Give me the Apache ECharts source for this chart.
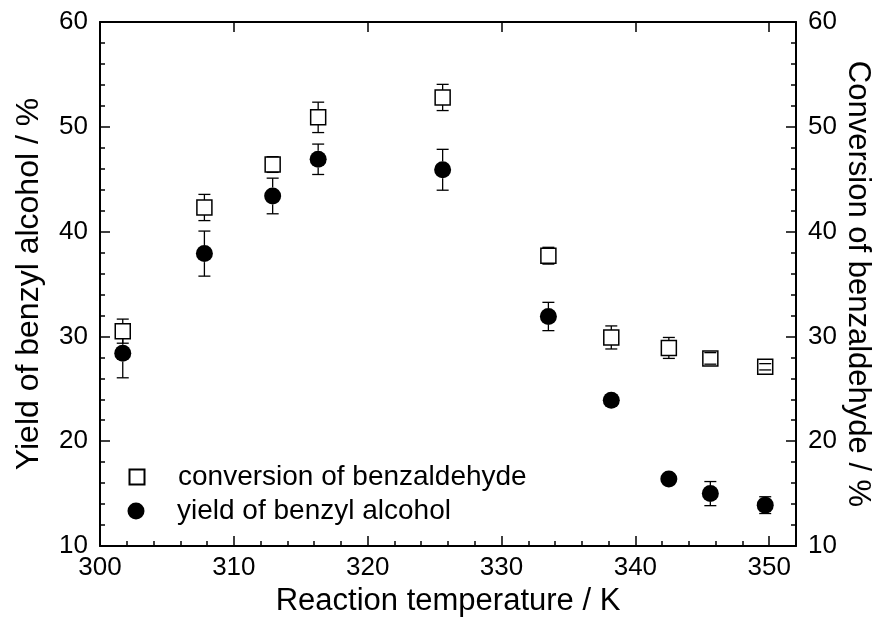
<!DOCTYPE html>
<html>
<head>
<meta charset="utf-8">
<script src="https://cdn.jsdelivr.net/npm/echarts@6/dist/echarts.min.js"></script>
<style>
html,body{margin:0;padding:0;background:#fff;}
#chart{width:878px;height:633px;}
</style>
</head>
<body>
<div id="chart"></div>
<script>
// ---- data ----
var temperatures = [301.7, 307.8, 312.9, 316.3, 325.6, 333.5, 338.2, 342.5, 345.6, 349.7];
var conversion    = [30.5, 42.3, 46.4, 50.9, 52.8, 37.7, 29.9, 28.9, 27.9, 27.1];
var conversionErr = [1.15, 1.25, 0.75, 1.45, 1.25, 0.8, 1.1, 1.0, 0.55, 0.3];
var yieldValues   = [28.4, 37.9, 43.4, 46.9, 45.9, 31.9, 23.9, 16.4, 15.0, 13.9];
var yieldErr      = [2.35, 2.15, 1.7, 1.45, 1.95, 1.35, 0.5, 0.4, 1.15, 0.8];
var seriesNames = ['conversion of benzaldehyde', 'yield of benzyl alcohol'];
var xTitle = 'Reaction temperature / K';
var yLeftTitle = 'Yield of benzyl alcohol / %';
var yRightTitle = 'Conversion of benzaldehyde / %';

var FONT = 'Liberation Sans';
var chart = echarts.init(document.getElementById('chart'), null, {renderer: 'canvas'});

function pairs(xs, ys) { return xs.map(function (x, i) { return [x, ys[i]]; }); }
function errTriples(xs, ys, es) { return xs.map(function (x, i) { return [x, ys[i], es[i]]; }); }

function errorRender(halfSymbol, capHalf) {
  return function (params, api) {
    var x = api.value(0), y = api.value(1), e = api.value(2);
    var c = api.coord([x, y]);
    var top = api.coord([x, y + e]);
    var bot = api.coord([x, y - e]);
    var style = {stroke: '#000', lineWidth: 1.3, fill: null};
    var children = [];
    if (top[1] < c[1] - halfSymbol) {
      children.push({type: 'line', shape: {x1: c[0], y1: top[1], x2: c[0], y2: c[1] - halfSymbol}, style: style});
    }
    if (bot[1] > c[1] + halfSymbol) {
      children.push({type: 'line', shape: {x1: c[0], y1: c[1] + halfSymbol, x2: c[0], y2: bot[1]}, style: style});
    }
    children.push({type: 'line', shape: {x1: c[0] - capHalf, y1: top[1], x2: c[0] + capHalf, y2: top[1]}, style: style});
    children.push({type: 'line', shape: {x1: c[0] - capHalf, y1: bot[1], x2: c[0] + capHalf, y2: bot[1]}, style: style});
    return {type: 'group', children: children};
  };
}

var axisLineStyle = {color: '#000', width: 2};
var tickStyle = {color: '#000', width: 1.5};
var LABEL_SIZE = 26;

var option = {
  backgroundColor: '#fff',
  animation: false,
  grid: {left: 100, right: 82, top: 22, bottom: 87, containLabel: false, outerBoundsMode: 'none'},
  legend: [
    {
      data: [{name: seriesNames[0]}],
      left: 128.5, top: 463, orient: 'vertical', padding: 0,
      itemWidth: 15, itemHeight: 15,
      textStyle: {color: '#000', fontFamily: FONT, fontSize: 28, padding: [0, 0, 0, 28.5]},
      selectedMode: false
    },
    {
      data: [{name: seriesNames[1]}],
      left: 127.5, top: 497, orient: 'vertical', padding: 0,
      itemWidth: 17, itemHeight: 17,
      textStyle: {color: '#000', fontFamily: FONT, fontSize: 28, padding: [0, 0, 0, 27.5]},
      selectedMode: false
    }
  ],
  xAxis: [
    {
      type: 'value', min: 300, max: 352, interval: 10, position: 'bottom',
      name: xTitle, nameLocation: 'middle', nameGap: 40, nameMoveOverlap: false,
      nameTextStyle: {color: '#000', fontFamily: FONT, fontSize: 31},
      axisLine: {show: true, onZero: false, lineStyle: axisLineStyle},
      axisTick: {show: true, inside: true, length: 10, lineStyle: tickStyle},
      minorTick: {show: true, splitNumber: 5, length: 5, lineStyle: tickStyle},
      axisLabel: {show: true, margin: 9, showMaxLabel: false, color: '#000', fontFamily: FONT, fontSize: LABEL_SIZE,
        formatter: function (v) { return v % 10 === 0 ? String(v) : ''; }},
      splitLine: {show: false}
    },
    {
      type: 'value', min: 300, max: 352, interval: 10, position: 'top',
      axisLine: {show: true, onZero: false, lineStyle: axisLineStyle},
      axisTick: {show: true, inside: true, length: 10, lineStyle: tickStyle},
      minorTick: {show: false},
      axisLabel: {show: false},
      splitLine: {show: false}
    }
  ],
  yAxis: [
    {
      type: 'value', min: 10, max: 60, interval: 10, position: 'left',
      name: yLeftTitle, nameLocation: 'middle', nameGap: 55, nameMoveOverlap: false,
      nameTextStyle: {color: '#000', fontFamily: FONT, fontSize: 32},
      axisLine: {show: true, onZero: false, lineStyle: axisLineStyle},
      axisTick: {show: true, inside: true, length: 10, lineStyle: tickStyle},
      minorTick: {show: true, splitNumber: 5, length: 5, lineStyle: tickStyle},
      axisLabel: {show: true, margin: 12, color: '#000', fontFamily: FONT, fontSize: LABEL_SIZE},
      splitLine: {show: false}
    },
    {
      type: 'value', min: 10, max: 60, interval: 10, position: 'right',
      name: yRightTitle, nameLocation: 'middle', nameGap: 46, nameRotate: -90, nameMoveOverlap: false,
      nameTextStyle: {color: '#000', fontFamily: FONT, fontSize: 31},
      axisLine: {show: true, onZero: false, lineStyle: axisLineStyle},
      axisTick: {show: true, inside: true, length: 10, lineStyle: tickStyle},
      minorTick: {show: true, splitNumber: 5, length: 5, lineStyle: tickStyle},
      axisLabel: {show: true, margin: 12, color: '#000', fontFamily: FONT, fontSize: LABEL_SIZE},
      splitLine: {show: false}
    }
  ],
  series: [
    {
      name: 'yieldErr', type: 'custom', xAxisIndex: 0, yAxisIndex: 0, z: 2,
      renderItem: errorRender(8.5, 6),
      encode: {x: 0, y: [1]},
      data: errTriples(temperatures, yieldValues, yieldErr)
    },
    {
      name: seriesNames[1], type: 'scatter', xAxisIndex: 0, yAxisIndex: 0, z: 3,
      symbol: 'circle', symbolSize: 17,
      itemStyle: {color: '#000', borderColor: '#000', borderWidth: 0, opacity: 1},
      data: pairs(temperatures, yieldValues)
    },
    {
      name: seriesNames[0], type: 'scatter', xAxisIndex: 0, yAxisIndex: 1, z: 3,
      symbol: 'rect', symbolSize: 15,
      itemStyle: {color: '#fff', borderColor: '#000', borderWidth: 1.5, opacity: 1},
      data: pairs(temperatures, conversion)
    },
    {
      name: 'convErr', type: 'custom', xAxisIndex: 0, yAxisIndex: 1, z: 4,
      renderItem: errorRender(7.5, 6),
      encode: {x: 0, y: [1]},
      data: errTriples(temperatures, conversion, conversionErr)
    }
  ]
};
chart.setOption(option);
</script>
</body>
</html>
